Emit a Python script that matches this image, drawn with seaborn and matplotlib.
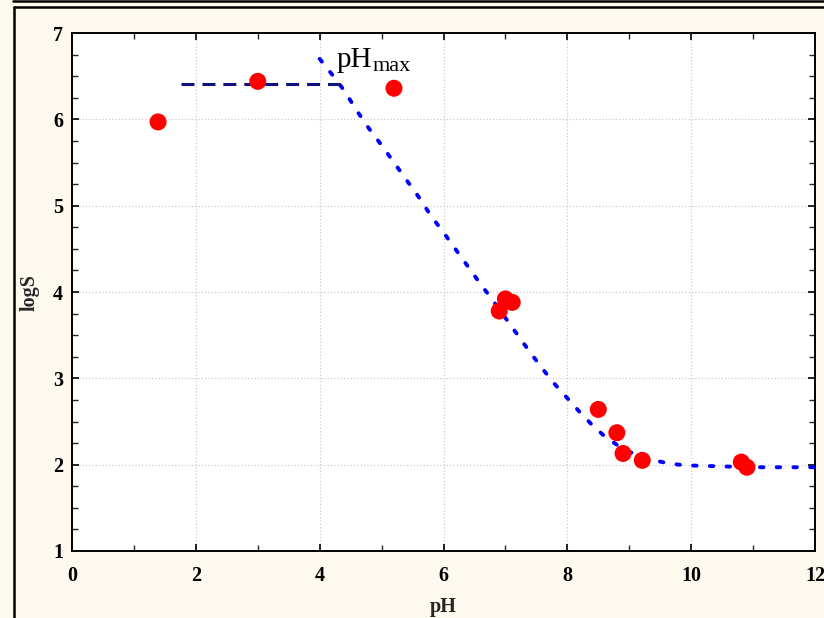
import matplotlib
matplotlib.use("Agg")
import matplotlib.pyplot as plt
from matplotlib.lines import Line2D
from matplotlib.ticker import MultipleLocator
import seaborn as sns
import pandas as pd

# measured points
ph_points = [1.39, 3.00, 5.20, 6.90, 7.00, 7.11, 8.50, 8.80, 8.90, 9.21, 10.81, 10.90]
logs_points = [5.97, 6.44, 6.36, 3.78, 3.92, 3.88, 2.64, 2.37, 2.13, 2.05, 2.03, 1.97]

# fitted curve
curve_ph = [4.0, 4.2, 4.4, 4.6, 4.8, 5.0, 5.2, 5.4, 5.6, 5.8, 6.0, 6.2, 6.4, 6.6,
            6.8, 7.0, 7.2, 7.4, 7.6, 7.8, 8.0, 8.2, 8.4, 8.6, 8.8, 9.0, 9.2, 9.4,
            9.6, 9.8, 10.0, 10.5, 11.0, 11.5, 12.0]
curve_logs = [6.70, 6.52, 6.33, 6.10, 5.89, 5.70, 5.50, 5.30, 5.10, 4.88, 4.69, 4.49,
              4.29, 4.09, 3.90, 3.70, 3.50, 3.30, 3.11, 2.93, 2.77, 2.61, 2.46, 2.33,
              2.23, 2.15, 2.09, 2.05, 2.02, 2.00, 1.99, 1.98, 1.97, 1.97, 1.97]

# plateau line
plateau_ph = [1.76, 4.35]
plateau_logs = [6.41, 6.41]

x_ticks = [0, 2, 4, 6, 8, 10, 12]
y_ticks = [1, 2, 3, 4, 5, 6, 7]

sns.set_style("white")
plt.rcParams['font.family'] = ['Liberation Serif', 'DejaVu Serif']

bg = '#FDF9EE'
fig = plt.figure(figsize=(8.24, 6.18), dpi=100, facecolor=bg)
ax = fig.add_axes([72/824, 1-551/618, (815-72)/824, (551-33)/618])
ax.set_facecolor('white')

pts = pd.DataFrame({'pH': ph_points, 'logS': logs_points})
curve = pd.DataFrame({'pH': curve_ph, 'logS': curve_logs})
plat = pd.DataFrame({'pH': plateau_ph, 'logS': plateau_logs})

sns.lineplot(data=curve, x='pH', y='logS', ax=ax, color='#0000FF', lw=2.8,
             linestyle=(0, (0.9, 3.4)), dash_capstyle='round', sort=False, zorder=3)
sns.lineplot(data=plat, x='pH', y='logS', ax=ax, color='#10107F', lw=2.2,
             linestyle=(0, (4.25, 2.6)), sort=False, zorder=3)
sns.scatterplot(data=pts, x='pH', y='logS', ax=ax, color='#FF0000', s=150,
                edgecolor='none', zorder=4)

ax.text(4.265, 6.606, 'pH', fontsize=21, color='black', ha='left', va='baseline')
ax.text(4.85, 6.56, 'max', fontsize=16, color='black', ha='left', va='baseline')

ax.set_xlim(0, 12)
ax.set_ylim(1, 7)
ax.set_xticks(x_ticks)
ax.set_yticks(y_ticks)
ax.set_xticklabels([str(v) for v in x_ticks], fontweight='bold', fontsize=14.5)
ax.set_yticklabels([str(v) for v in y_ticks], fontweight='bold', fontsize=14.5)
ax.xaxis.set_minor_locator(MultipleLocator(1))
ax.yaxis.set_minor_locator(MultipleLocator(0.25))
ax.tick_params(which='major', direction='in', length=5, width=1.2, top=True, right=True,
               left=True, bottom=True, colors='black')
ax.tick_params(axis='x', which='major', pad=11)
ax.tick_params(axis='y', which='major', pad=6.5)
ax.tick_params(which='minor', direction='in', length=4, width=1.0, top=True, right=True,
               left=True, bottom=True)
ax.grid(True, which='major', color='#CCCCCC', linestyle=':', linewidth=0.9)
for s in ax.spines.values():
    s.set_color('black')
    s.set_linewidth(1.4)

ax.set_xlabel('pH', fontweight='bold', fontsize=14.5)
ax.set_ylabel('logS', fontweight='bold', fontsize=14.5)
ax.xaxis.set_label_coords(0.5, -(597-551)/518)
ax.yaxis.set_label_coords(-(72-40)/743, 0.498)

# outer frame lines
W, H = 824, 618
fig.add_artist(Line2D([13/W, 1], [1-0.8/H, 1-0.8/H], color='black', lw=1.8,
                      transform=fig.transFigure))
fig.add_artist(Line2D([13.5/W, 1], [1-7/H, 1-7/H], color='black', lw=1.8,
                      transform=fig.transFigure))
fig.add_artist(Line2D([13.5/W, 13.5/W], [0, 1-7/H], color='black', lw=1.8,
                      transform=fig.transFigure))

fig.savefig('out.png', dpi=100, facecolor=bg)
